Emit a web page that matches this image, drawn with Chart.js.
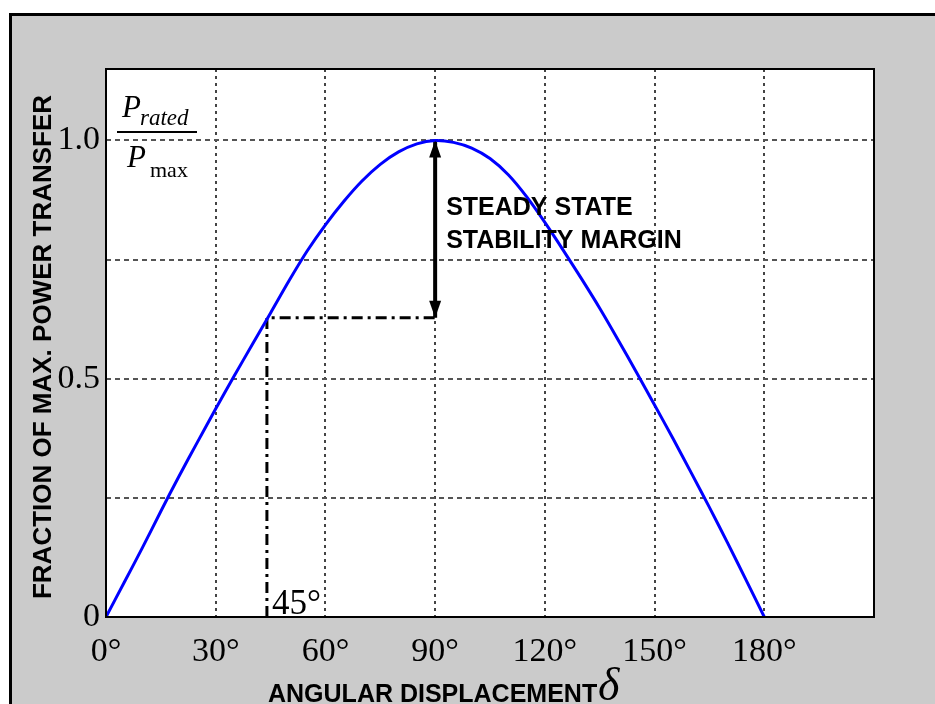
<!DOCTYPE html>
<html lang="en">
<head>
  <meta charset="UTF-8" />
  <title>Power angle curve</title>
  <script src="https://cdn.jsdelivr.net/npm/chart.js"></script>
  <style>
    html, body { margin: 0; padding: 0; background: #fff; }
    body { width: 935px; height: 704px; position: relative; overflow: hidden; }
    #panel {
      position: absolute; left: 9px; top: 13px; right: 0; bottom: 0;
      border-top: 3px solid #000; border-left: 3px solid #000;
      background: #cbcbcb;
    }
    canvas { display: block; }
  </style>
</head>
<body>
  <div id="panel"><canvas id="powerChart" width="923" height="688"></canvas></div>

  <script>
    // angle (deg) and fraction of max power
    const angles = [0, 5, 10, 15, 20, 25, 30, 35, 40, 45, 50, 55, 60, 65, 70, 75, 80, 85, 90,
                    95, 100, 105, 110, 115, 120, 125, 130, 135, 140, 145, 150, 155, 160, 165, 170, 175, 180];
    const power = [0, 0.073, 0.146, 0.222, 0.296, 0.367, 0.437, 0.505, 0.572, 0.638, 0.705, 0.768, 0.823, 0.872, 0.915, 0.95, 0.976, 0.993, 1.0,
                   0.996, 0.984, 0.962, 0.928, 0.882, 0.828, 0.77, 0.71, 0.648, 0.582, 0.514, 0.445, 0.375, 0.303, 0.23, 0.155, 0.078, 0];

    // operating point guide (dash-dot) and stability margin arrow
    const guideX = [44, 44, 90];
    const guideY = [0, 0.628, 0.628];
    const marginX = [90, 90];
    const marginY = [0.628, 1.0];

    const xTicks = [0, 30, 60, 90, 120, 150, 180, 210];
    const yTicks = [0, 0.25, 0.5, 0.75, 1.0];
    const yLabels = { 0: '0', 0.5: '0.5', 1: '1.0' };

    const pts = (xs, ys) => xs.map((x, i) => ({ x: x, y: ys[i] }));
    const SERIF = '"Liberation Serif", "Times New Roman", serif';
    const SANS = '"Liberation Sans", Arial, sans-serif';

    const decor = {
      id: 'decor',
      beforeDraw(chart) {
        const { ctx, chartArea: a } = chart;
        ctx.save();
        ctx.fillStyle = '#fff';
        ctx.fillRect(a.left, a.top, a.right - a.left, a.bottom - a.top);
        ctx.restore();
      },
      afterDatasetsDraw(chart) {
        const { ctx, chartArea: a, scales } = chart;
        const xs = scales.x, ys = scales.y;
        ctx.save();

        // arrow heads on the margin line
        const px = xs.getPixelForValue(marginX[0]);
        const top = ys.getPixelForValue(marginY[1]);
        const bot = ys.getPixelForValue(marginY[0]);
        ctx.fillStyle = '#000';
        ctx.beginPath();
        ctx.moveTo(px, top); ctx.lineTo(px - 6, top + 17); ctx.lineTo(px + 6, top + 17); ctx.closePath();
        ctx.fill();
        ctx.beginPath();
        ctx.moveTo(px, bot); ctx.lineTo(px - 6, bot - 17); ctx.lineTo(px + 6, bot - 17); ctx.closePath();
        ctx.fill();

        // margin label
        ctx.font = 'bold 25px ' + SANS;
        ctx.textBaseline = 'alphabetic';
        ctx.fillText('STEADY STATE', px + 11, a.top + 146);
        ctx.fillText('STABILITY MARGIN', px + 11, a.top + 179);

        // 45 deg label
        ctx.font = '35px ' + SERIF;
        ctx.fillText('45°', xs.getPixelForValue(guideX[0]) + 5, a.bottom - 3);

        // Prated / Pmax
        const L = a.left, T = a.top;
        ctx.font = 'italic 31px ' + SERIF;
        ctx.fillText('P', L + 16, T + 48);
        ctx.font = 'italic 23px ' + SERIF;
        ctx.fillText('rated', L + 34, T + 56);
        ctx.fillRect(L + 11, T + 62, 80, 2);
        ctx.font = 'italic 31px ' + SERIF;
        ctx.fillText('P', L + 21, T + 98);
        ctx.font = '22px ' + SERIF;
        ctx.fillText('max', L + 44, T + 108);

        // plot frame
        ctx.strokeStyle = '#000';
        ctx.lineWidth = 2;
        ctx.strokeRect(a.left, a.top, a.right - a.left, a.bottom - a.top);
        ctx.restore();
      },
      afterDraw(chart) {
        const { ctx } = chart;
        ctx.save();
        ctx.fillStyle = '#000';
        ctx.font = 'bold 25px ' + SANS;
        ctx.textBaseline = 'alphabetic';
        ctx.fillText('ANGULAR DISPLACEMENT', 256, 686);
        ctx.font = 'italic 46px ' + SERIF;
        ctx.fillText('δ', 586, 684);

        ctx.translate(39, 331);
        ctx.rotate(-Math.PI / 2);
        ctx.font = 'bold 26px ' + SANS;
        ctx.textAlign = 'center';
        ctx.fillText('FRACTION OF MAX. POWER TRANSFER', 0, 0);
        ctx.restore();
      }
    };

    new Chart(document.getElementById('powerChart'), {
      type: 'line',
      data: {
        datasets: [
          {
            label: 'P',
            data: pts(angles, power),
            borderColor: '#0000ff',
            borderWidth: 3,
            pointRadius: 0,
            tension: 0.3,
            fill: false
          },
          {
            label: 'guide',
            data: pts(guideX, guideY),
            borderColor: '#000',
            borderWidth: 3,
            borderDash: [11, 5, 3, 5],
            pointRadius: 0,
            tension: 0,
            fill: false
          },
          {
            label: 'margin',
            data: pts(marginX, marginY),
            borderColor: '#000',
            borderWidth: 4,
            pointRadius: 0,
            fill: false
          }
        ]
      },
      options: {
        responsive: false,
        animation: false,
        layout: { padding: { top: 53, right: 61, bottom: 0, left: 0 } },
        plugins: { legend: { display: false }, tooltip: { enabled: false } },
        scales: {
          x: {
            type: 'linear',
            min: 0,
            max: 210,
            afterBuildTicks: s => { s.ticks = xTicks.map(v => ({ value: v })); },
            afterFit: s => { s.height = 87; },
            border: { display: false, dash: [3, 4] },
            grid: { color: '#444', lineWidth: 2, drawTicks: false },
            ticks: {
              color: '#000',
              padding: 15,
              maxRotation: 0,
              font: { family: SERIF, size: 34 },
              callback: v => (v === 210 ? '' : v + '°')
            }
          },
          y: {
            type: 'linear',
            min: 0,
            max: 1.15,
            afterBuildTicks: s => { s.ticks = yTicks.map(v => ({ value: v })); },
            afterFit: s => { s.width = 94; },
            border: { display: false, dash: [5, 4] },
            grid: { color: '#555', lineWidth: 2, drawTicks: false },
            ticks: {
              color: '#000',
              padding: 6,
              font: { family: SERIF, size: 34 },
              callback: v => yLabels[v] || ''
            }
          }
        }
      },
      plugins: [decor]
    });
  </script>
</body>
</html>
